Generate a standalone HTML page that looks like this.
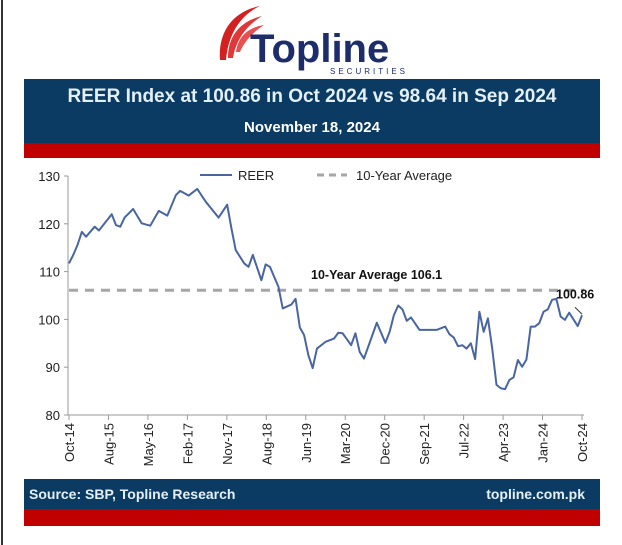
<!DOCTYPE html>
<html><head><meta charset="utf-8"><style>
body{margin:0;width:622px;height:545px;background:#fff;position:relative;overflow:hidden;font-family:"Liberation Sans",sans-serif}
.abs{position:absolute}
</style></head><body>
<div class="abs" style="left:1px;top:0;width:2px;height:545px;background:#333"></div>
<svg class="abs" style="left:200px;top:0" width="220" height="80">
<path d="M20 60 C18 35 30 12 60 6 C40 15 28 35 26 60Z" fill="#d42020"/>
<path d="M28 58 C28 38 38 22 62 16 C46 26 36 40 33 58Z" fill="#e03838"/>
<path d="M36 52 C38 38 46 28 64 25 C52 33 44 42 40 52Z" fill="#e85050"/>
<text x="50" y="62" font-family="Liberation Sans" font-weight="bold" font-size="40" fill="#1d2d6b">Topline</text>
<text x="130" y="74" font-family="Liberation Sans" font-size="8" letter-spacing="3" fill="#1d2d6b">SECURITIES</text>
</svg>
<div class="abs" style="left:24px;top:79px;width:576px;height:64px;background:#0b3a63"></div>
<div class="abs" style="left:24px;top:143px;width:576px;height:15px;background:#c00000"></div>
<div class="abs" style="left:24px;top:86px;width:576px;text-align:center;color:#e4f0f8;font-weight:bold;font-size:19px">REER Index at 100.86 in Oct 2024 vs 98.64 in Sep 2024</div>
<div class="abs" style="left:24px;top:119px;width:576px;text-align:center;color:#fff;font-weight:bold;font-size:15px">November 18, 2024</div>
<div class="abs" style="left:24px;top:479px;width:576px;height:30px;background:#0b3a63"></div>
<div class="abs" style="left:24px;top:509px;width:576px;height:17px;background:#c00000"></div>
<div class="abs" style="left:29px;top:486px;color:#e4f0f8;font-weight:bold;font-size:14px">Source: SBP, Topline Research</div>
<div class="abs" style="right:37px;top:486px;color:#e4f0f8;font-weight:bold;font-size:14px">topline.com.pk</div>
<svg id="chart" class="abs" style="left:0;top:0" width="622" height="545"></svg>
<script>
const months=[0,1,2,3,4,6,7,10,11,12,13,15,17,19,21,23,25,26,28,30,32,35,37,38,39,41,42,43,45,46,47,49,50,52,53,54,55,56,57,58,60,62,63,64,66,67,68,69,70,72,74,75,76,77,78,79,80,82,86,88,89,90,91,92,93,94,95,96,97,98,99,100,101,102,103,104,105,106,107,108,109,110,111,112,113,114,115,116,117,119,120];
const reer=[111.7,113.5,115.6,118.3,117.3,119.4,118.6,122,119.7,119.4,121.3,123.1,120.1,119.6,122.7,121.7,126,126.9,125.9,127.3,124.6,121.3,124,119,114.5,111.7,111,113.5,108.2,111.5,111,106.8,102.3,103.1,104.3,98.3,96.7,92.5,89.8,93.9,95.3,96,97.2,97.1,94.6,97.1,93.2,91.8,94.3,99.3,95.1,97.4,100.9,102.9,102.1,99.7,100.4,97.8,97.8,98.5,96.9,96.2,94.4,94.6,93.9,95,91.7,101.6,97.4,100.2,93.9,86.3,85.6,85.4,87.3,87.9,91.5,90.1,91.6,98.5,98.5,99.2,101.6,102.1,104.1,104.3,100.6,99.9,101.4,98.6,100.86];
const avg10=106.1;
const yTicks=[80,90,100,110,120,130];
const xLabels=["Oct-14","Aug-15","May-16","Feb-17","Nov-17","Aug-18","Jun-19","Mar-20","Dec-20","Sep-21","Jul-22","Apr-23","Jan-24","Oct-24"];
const NS="http://www.w3.org/2000/svg",svg=document.getElementById('chart');
const X0=69,X1=582,Y0=415,Y1=176;
const x=m=>X0+(X1-X0)*m/120, y=v=>Y0-(Y0-Y1)*(v-80)/50;
function mk(t,a,txt){const e=document.createElementNS(NS,t);for(const k in a)e.setAttribute(k,a[k]);if(txt!=null)e.textContent=txt;svg.appendChild(e);return e;}
let e=mk('line',{x1:X0-1,y1:Y1,x2:X0-1,y2:Y0,stroke:'#999'});


yTicks.forEach(v=>{
 let t=mk('line',{x1:X0-5,x2:X0-1,y1:y(v),y2:y(v),stroke:'#999'});
 
 
 let l=mk('text',{x:X0-9,y:y(v)+5,'text-anchor':'end','font-size':13,fill:'#222','font-family':'Liberation Sans'},v);
 
 
});
e=mk('line',{x1:X0-1,y1:Y0,x2:X1+2,y2:Y0,stroke:'#999'});


xLabels.forEach((s,i)=>{
 const px=x(i*120/(xLabels.length-1));
 let t=mk('line',{x1:px,x2:px,y1:Y0,y2:Y0+5,stroke:'#999'});
 
 
 let l=mk('text',{x:0,y:0,transform:`translate(${px+5},${Y0+8}) rotate(-90)`,'text-anchor':'end','font-size':13,fill:'#222','font-family':'Liberation Sans'},s);
 
 
});
e=mk('line',{x1:X0,x2:X1+2,y1:y(avg10),y2:y(avg10),stroke:'#a6a6a6','stroke-width':3,'stroke-dasharray':'9 7'});


e=mk('polyline',{points:months.map((m,i)=>x(m)+','+y(reer[i])).join(' '),fill:'none',stroke:'#4a66a0','stroke-width':2,'stroke-linejoin':'round'});


e=mk('text',{x:311,y:y(avg10)-11,'font-size':12.5,'font-weight':'bold',fill:'#111','font-family':'Liberation Sans'},'10-Year Average '+avg10);


const lv=reer[reer.length-1];
e=mk('text',{x:556,y:y(lv)-17,'font-size':12.5,'font-weight':'bold',fill:'#111','font-family':'Liberation Sans'},lv.toFixed(2));


e=mk('line',{x1:575,y1:y(lv)-8,x2:x(120),y2:y(lv)-1,stroke:'#333'});


e=mk('line',{x1:200,x2:232,y1:175,y2:175,stroke:'#4a66a0','stroke-width':2});


e=mk('text',{x:238,y:180,'font-size':13,fill:'#222','font-family':'Liberation Sans'},'REER');


e=mk('line',{x1:317,x2:347,y1:175,y2:175,stroke:'#a6a6a6','stroke-width':3,'stroke-dasharray':'7 5'});


e=mk('text',{x:356,y:180,'font-size':13,fill:'#222','font-family':'Liberation Sans'},'10-Year Average');


</script>
</body></html>
